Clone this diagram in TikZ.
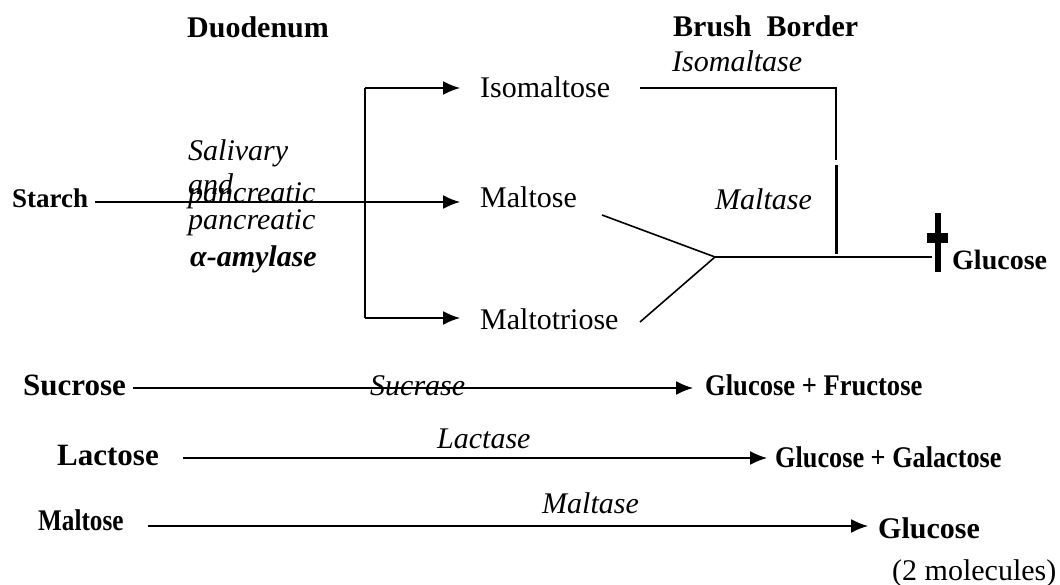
\documentclass[tikz,border=0pt]{standalone}
\usepackage{fontspec}
\setmainfont{Liberation Serif}
\usetikzlibrary{arrows.meta}
\begin{document}
\begin{tikzpicture}[x=1pt,y=-1pt,
  txt/.style={inner sep=0pt,anchor=base west,font=\fontsize{30}{33}\selectfont},
  bld/.style={txt,font=\fontsize{30}{33}\selectfont\bfseries},
  itl/.style={txt,font=\fontsize{30}{33}\selectfont\itshape},
  ln/.style={line width=1.6pt},
  arr/.style={ln,-{Latex[length=17pt,width=14pt]}}]
\useasboundingbox (0,0) rectangle (1060,585);
% headings
\node[bld] (duo) at (187,38) {Duodenum};
\node[bld] (bb) at (673,37) {Brush\ \ Border};
\node[itl] (isoase) at (672,72) {Isomaltase};
% starch part
\node[bld,font=\fontsize{27}{30}\selectfont\bfseries] (starch) at (12,208) {Starch};
\node[txt] (isomaltose) at (480,98) {Isomaltose};
\node[txt] (maltose) at (480,208) {Maltose};
\node[txt] (maltotriose) at (480,330) {Maltotriose};
\node[itl] (sal) at (188,161) {Salivary};
\node[itl] (and) at (188,195) {and};
\node[itl] (panc1) at (188,203) {pancreatic};
\node[itl] (panc2) at (188,230) {pancreatic};
\node[itl,font=\fontsize{30}{33}\selectfont\bfseries\itshape] (amyl) at (190,267) {α-amylase};
\node[itl] (maltase1) at (715,210) {Maltase};
\node[bld,font=\fontsize{28}{32}\selectfont\bfseries] (gluc1) at (952,270) {Glucose};
\coordinate (vtop) at (365,88);
\coordinate (vbot) at (365,318);
\coordinate (merge) at (715,257);
\coordinate (corner) at (836,88);
\coordinate (gap1) at (836,160);
\coordinate (gap2) at (836,165);
\coordinate (gend) at (932,257);
\draw[ln] (vtop) -- (vbot);
\draw[arr] (vtop) -- ([xshift=-20pt]isomaltose.west |- vtop);
\draw[arr] ([xshift=7pt]starch.east |- 0,202) -- ([xshift=-20pt]maltose.west |- 0,202);
\draw[arr] (vbot) -- ([xshift=-20pt]maltotriose.west |- vbot);
\draw[ln] ([xshift=30pt]isomaltose.east |- corner) -- (corner) -- (gap1);
\draw[line width=3pt] (gap2) -- (836,254);
\draw[ln] (602,215) -- (merge);
\draw[ln] (640,322) -- (merge);
\draw[ln] (merge) -- (gend);
\draw[line width=6pt] (938,213) -- (938,272);
\draw[line width=10pt] (927,238) -- (948,238);
% sucrose
\node[bld,font=\fontsize{31}{33}\selectfont\bfseries] (sucrose) at (23,395) {Sucrose};
\node[itl] (sucrase) at (370,395) {Sucrase};
\node[bld] (gf) at (705,395) {\scalebox{0.885}[1]{Glucose + Fructose}};
\draw[arr] ([xshift=7pt]sucrose.east |- 0,388) -- ([xshift=-12pt]gf.west |- 0,388);
% lactose
\node[bld,font=\fontsize{31}{33}\selectfont\bfseries] (lactose) at (57,465) {Lactose};
\node[itl] (lactase) at (437,448) {Lactase};
\node[bld] (gg) at (775,467) {\scalebox{0.875}[1]{Glucose + Galactose}};
\draw[arr] ([xshift=24pt]lactose.east |- 0,458) -- ([xshift=-8pt]gg.west |- 0,458);
% maltose
\node[bld] (maltose2) at (38,530) {\scalebox{0.84}[1]{Maltose}};
\node[itl] (maltase2) at (542,513) {Maltase};
\node[bld] (gluc2) at (878,538) {Glucose};
\node[txt] (mol) at (892,580) {(2 molecules)};
\draw[arr] ([xshift=24pt]maltose2.east |- 0,526) -- ([xshift=-10pt]gluc2.west |- 0,526);
\end{tikzpicture}
\end{document}
